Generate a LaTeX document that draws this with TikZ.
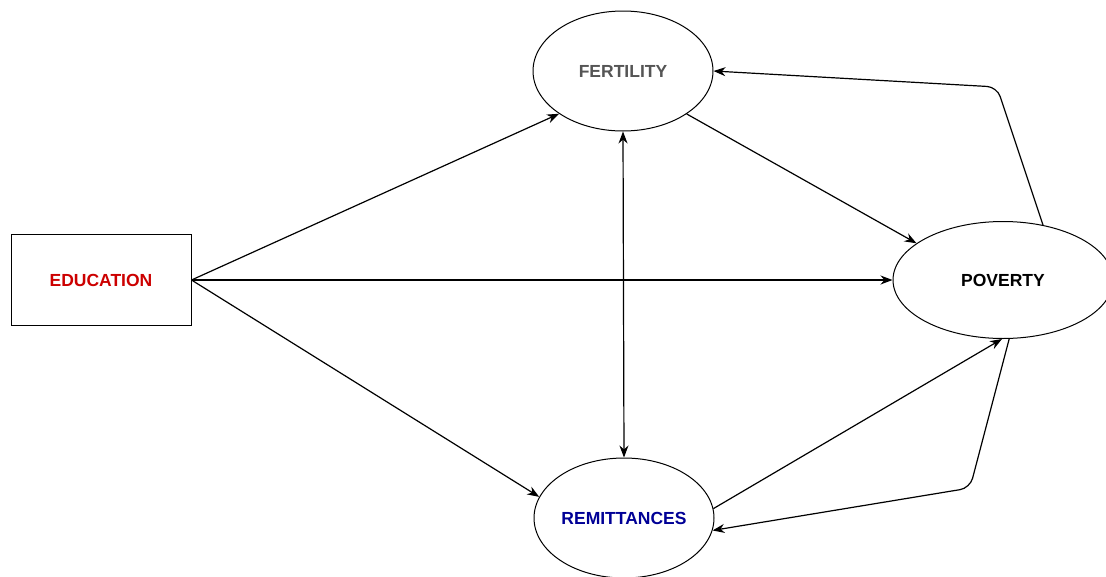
\documentclass[tikz,border=0pt]{standalone}
\usepackage{fontspec}
\setmainfont{Liberation Sans}
\usetikzlibrary{shapes.geometric,arrows.meta}
\definecolor{edured}{RGB}{204,0,0}
\definecolor{fertgray}{RGB}{85,85,85}
\definecolor{remblue}{RGB}{0,0,150}
\tikzset{
  lbl/.style={font=\fontsize{17.5}{20}\selectfont\bfseries},
  oval/.style={ellipse, draw, line width=1pt, inner sep=0pt, minimum width=180pt, minimum height=120pt, lbl},
  box/.style={rectangle, draw, line width=1pt, inner sep=0pt, minimum width=180pt, minimum height=91pt, lbl},
  link/.style={line width=1.2pt, -{Stealth[length=12pt,width=9pt]}},
  dlink/.style={line width=1.2pt, {Stealth[length=12pt,width=9pt]}-{Stealth[length=12pt,width=9pt]}},
}
\begin{document}
\begin{tikzpicture}[x=1pt,y=-1pt]
\useasboundingbox (0,0) rectangle (1106,576);
\begin{scope}
\clip (0,0) rectangle (1106,576);
\node[box, text=edured] (edu) at (101,280) {EDUCATION};
\node[oval, text=fertgray] (fert) at (623,71) {FERTILITY};
\node[oval, minimum width=220pt, minimum height=117pt] (pov) at (1003,280) {POVERTY};
\node[oval, text=remblue] (rem) at (624,518) {REMITTANCES};
\end{scope}
\coordinate (c1) at (997,87);
\coordinate (c2) at (970,488);
\draw[link] (edu.east) -- (fert.south west);
\draw[link] (edu.east) -- (pov.west);
\draw[link] (edu.east) -- (rem.166);
\draw[dlink] (fert.south) -- (rem.north);
\draw[link] (fert.-34) -- (pov.157);
\draw[link, rounded corners=10pt] (pov.54) -- (c1) -- (fert.east);
\draw[link] (rem.6) -- (pov.-91);
\draw[link, rounded corners=10pt] (pov.-84) -- (c2) -- (rem.-8);
\end{tikzpicture}
\end{document}
